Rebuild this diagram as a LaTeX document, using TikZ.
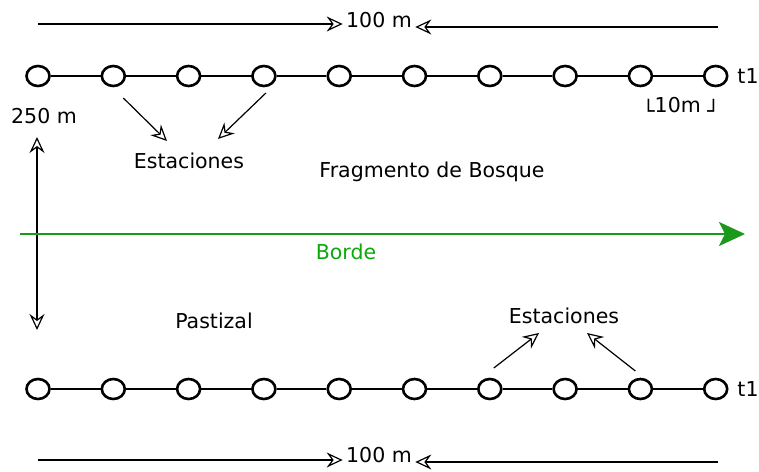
\documentclass[tikz,border=0pt]{standalone}
\usepackage{fontspec}
\setmainfont{DejaVu Sans}
\usepackage{tikz}
\usetikzlibrary{arrows.meta,shapes.geometric}
\definecolor{bordeline}{RGB}{26,153,26}
\definecolor{bordetext}{RGB}{10,170,10}

\begin{document}
\begin{tikzpicture}[x=1pt, y=-1pt,
    hollow/.tip={Stealth[open,length=16pt,width=15pt,inset=5.5pt]},
    every node/.style={font=\fontsize{20.5}{24}\selectfont},
    station/.style={ellipse,draw,line width=2.6pt,minimum width=23pt,minimum height=20pt,inner sep=0pt},
    thin arrow/.style={-{hollow},line width=1.2pt}]
    \useasboundingbox (0,0) rectangle (759,471);
    \foreach \i in {1,...,10} {
      \node[station] (top\i) at ({38+75.3*(\i-1)},76) {};
      \node[station] (bot\i) at ({38+75.3*(\i-1)},389) {};
    }
    \foreach \i [evaluate=\i as \j using int(\i+1)] in {1,...,9} {
      \draw[line width=2.6pt] (top\i) -- (top\j);
      \draw[line width=2.6pt] (bot\i) -- (bot\j);
    }
    \node at (748,76) (tlabel) {t1};
    \node at (748,389) (blabel) {t1};
    \node at (681,108) (spacing) {\raisebox{-0.3em}{└}10m \raisebox{-0.3em}{┘}};

    \node at (379,20) (toplen) {100 m};
    \coordinate (ta) at (38,24);
    \coordinate (tb) at (718,27);
    \draw [thin arrow] (ta) -- (ta -| toplen.west);
    \draw [thin arrow] (tb) -- (tb -| toplen.east);

    \node at (379,455) (botlen) {100 m};
    \coordinate (ba) at (38,460);
    \coordinate (bb) at (718,462);
    \draw [thin arrow] (ba) -- (ba -| botlen.west);
    \draw [thin arrow] (bb) -- (bb -| botlen.east);

    \node at (44,116) (width) {250 m};
    \coordinate (va) at (37,137);
    \coordinate (vb) at (37,330);
    \draw [thin arrow,{hollow}-{hollow}] (va) -- (vb);

    \coordinate (ga) at (20,234);
    \coordinate (gb) at (745,234);
    \draw [bordeline,line width=2.2pt,-{Stealth[length=26pt,width=24pt,inset=6pt]}] (ga) -- (gb);
    \node [text=bordetext] at (346,252) (borde) {Borde};

    \node at (189,161) (est1) {Estaciones};
    \draw [thin arrow] ([shift={(10,22)}]top2.center) -- ([shift={(-22,-20)}]est1.center);
    \draw [thin arrow] ([shift={(2,17)}]top4.center) -- ([shift={(29,-22)}]est1.center);
    \node at (432,172) (bosque) {Fragmento de Bosque};

    \node at (214,321) (pasto) {Pastizal};
    \node at (564,316) (est2) {Estaciones};
    \draw [thin arrow] ([shift={(4,-21)}]bot7.center) -- ([shift={(-25,17)}]est2.center);
    \draw [thin arrow] ([shift={(-5,-18)}]bot9.center) -- ([shift={(23,17)}]est2.center);
  \end{tikzpicture}
\end{document}
